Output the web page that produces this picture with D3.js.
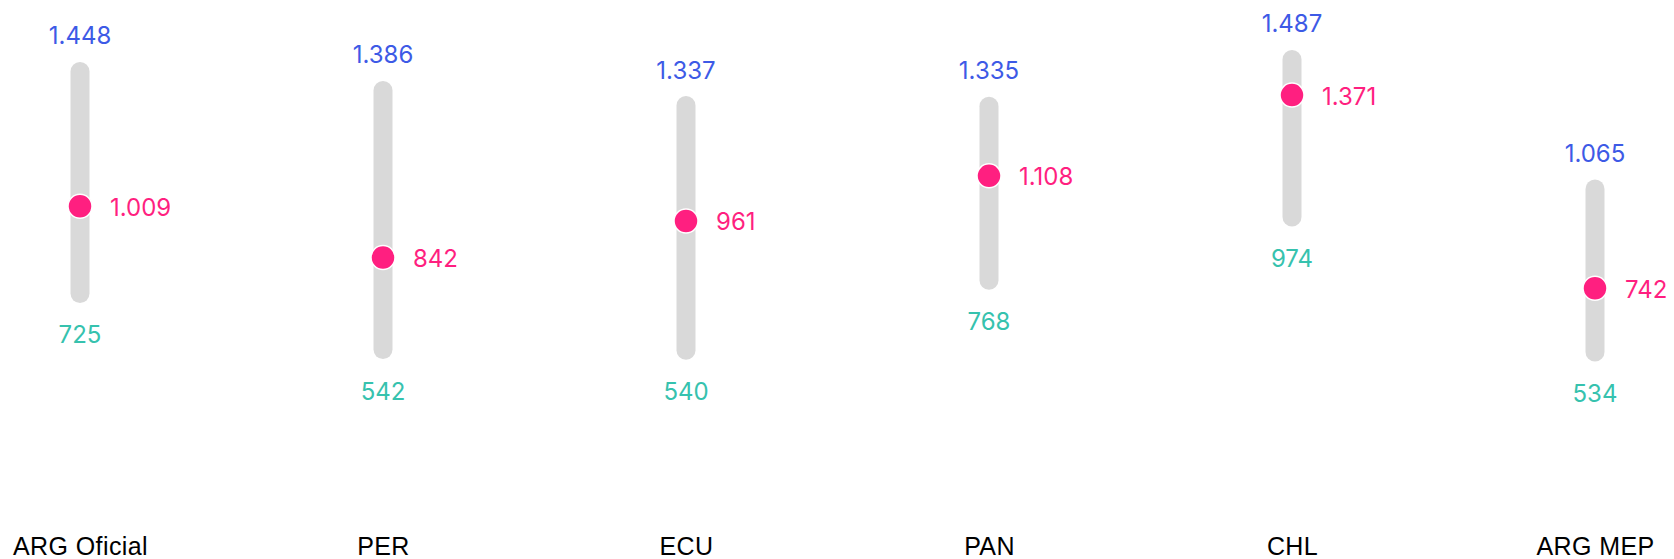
<!DOCTYPE html>
<html>
<head>
<meta charset="utf-8">
<script src="https://cdn.jsdelivr.net/npm/d3@7"></script>
<style>
  body { margin: 0; background: #fff; }
  .value { font-family: Inter, "Noto Sans", sans-serif; font-size: 24px; }
  .cat text { font-family: "Liberation Sans", Arial, sans-serif; font-size: 25px; fill: #000; letter-spacing: 0.4px; }
</style>
</head>
<body>
<div id="chart"></div>
<script>
const categories = ["ARG Oficial", "PER", "ECU", "PAN", "CHL", "ARG MEP"];
const highValues = [1448, 1386, 1337, 1335, 1487, 1065];
const lowValues = [725, 542, 540, 768, 974, 534];
const currentValues = [1009, 842, 961, 1108, 1371, 742];

const fmt = v => d3.format(",")(v).replace(/,/g, ".");

const width = 1674, height = 559;

const rows = categories.map((c, i) => ({
  cat: c, high: highValues[i], low: lowValues[i], cur: currentValues[i]
}));

const svg = d3.select("#chart")
  .append("svg")
    .attr("width", width)
    .attr("height", height);

const xScale = d3.scalePoint()
  .domain(categories)
  .range([80, 1595]);

const yScale = d3.scaleLinear()
  .domain([0, 1500])
  .range([516, 55.5]);

// range bars
svg.selectAll(".range")
  .data(rows)
  .enter()
  .append("line")
    .attr("class", "range")
    .attr("x1", d => xScale(d.cat))
    .attr("x2", d => xScale(d.cat))
    .attr("y1", d => yScale(d.high))
    .attr("y2", d => yScale(d.low))
    .attr("stroke", "#d9d9d9")
    .attr("stroke-width", 19)
    .attr("stroke-linecap", "round");

// max labels
svg.selectAll(".high")
  .data(rows)
  .enter()
  .append("text")
    .attr("class", "value high")
    .attr("x", d => xScale(d.cat))
    .attr("y", d => yScale(d.high) - 27)
    .attr("text-anchor", "middle")
    .attr("fill", "#3d5ae6")
    .text(d => fmt(d.high));

// min labels
svg.selectAll(".low")
  .data(rows)
  .enter()
  .append("text")
    .attr("class", "value low")
    .attr("x", d => xScale(d.cat))
    .attr("y", d => yScale(d.low) + 50)
    .attr("text-anchor", "middle")
    .attr("fill", "#36c2ae")
    .text(d => fmt(d.low));

// current dots
svg.selectAll(".dot")
  .data(rows)
  .enter()
  .append("circle")
    .attr("class", "dot")
    .attr("cx", d => xScale(d.cat))
    .attr("cy", d => yScale(d.cur))
    .attr("r", 12)
    .attr("fill", "#ff1f80")
    .attr("stroke", "#fff")
    .attr("stroke-width", 1.5);

svg.selectAll(".cur")
  .data(rows)
  .enter()
  .append("text")
    .attr("class", "value cur")
    .attr("x", d => xScale(d.cat) + 30)
    .attr("y", d => yScale(d.cur) + 9.5)
    .attr("fill", "#ff1f80")
    .text(d => fmt(d.cur));

// category axis
const axis = svg.append("g")
  .attr("class", "cat")
  .attr("transform", "translate(0, 555)")
  .call(d3.axisBottom(xScale).tickSize(0).tickPadding(0));

axis.select(".domain").remove();
axis.selectAll("text")
  .attr("dy", 0)
  .attr("y", 0);
</script>
</body>
</html>
